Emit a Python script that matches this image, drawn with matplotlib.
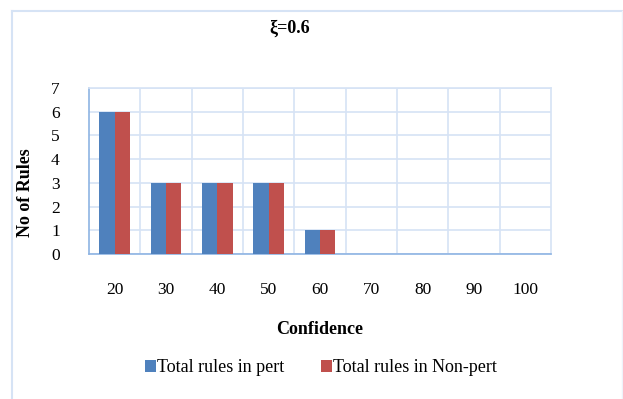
import matplotlib
matplotlib.use("Agg")
import matplotlib.pyplot as plt
from matplotlib.lines import Line2D
import numpy as np

confidence = [20, 30, 40, 50, 60, 70, 80, 90, 100]
rules_pert = [6, 3, 3, 3, 1, 0, 0, 0, 0]
rules_nonpert = [6, 3, 3, 3, 1, 0, 0, 0, 0]

plt.rcParams['font.family'] = ['Liberation Serif', 'DejaVu Serif']

fig = plt.figure(figsize=(6.23, 3.99), dpi=100)
ax = fig.add_axes([89 / 623, 1 - 254 / 399, 462 / 623, 166 / 399])

x = np.arange(len(confidence))
w = 0.3
ax.bar(x - w / 2, rules_pert, w, color='#4F81BD', label='Total rules in pert', zorder=3)
ax.bar(x + w / 2, rules_nonpert, w, color='#C0504D', label='Total rules in Non-pert', zorder=3)

ax.set_xlim(-0.5, len(confidence) - 0.5)
ax.set_ylim(0, 7)
ax.set_yticks(range(8))
ax.set_xticks(x)
ax.set_xticklabels([str(c) for c in confidence], fontsize=12.5)
ax.set_xticks(np.arange(0.5, len(confidence) - 0.5), minor=True)
ax.tick_params(axis='y', labelsize=12.5, length=0, pad=21)
ax.tick_params(axis='x', which='both', length=0, pad=20)

# grid
ax.grid(axis='y', color='#D6E3F5', linewidth=1.2, zorder=0)
ax.grid(axis='x', which='minor', color='#D6E3F5', linewidth=1.2, zorder=0)
for s in ['top', 'right']:
    ax.spines[s].set_color('#D6E3F5')
    ax.spines[s].set_linewidth(1.2)
for s in ['left', 'bottom']:
    ax.spines[s].set_color('#8EB4E3')
    ax.spines[s].set_linewidth(1.2)

fig.text(26 / 623, 1 - 193 / 399, 'No of Rules', fontsize=13, fontweight='bold',
         rotation=90, ha='center', va='center')
ax.set_xlabel('Confidence', fontsize=13, fontweight='bold', labelpad=17)
fig.text(290 / 623, 1 - 28 / 399, 'ξ=0.6', fontsize=13, fontweight='bold',
         ha='center', va='center')

fig.legend(loc='center', bbox_to_anchor=(321 / 623, 1 - 368 / 399), ncol=2,
           frameon=False, fontsize=13, handlelength=0.6, handleheight=0.6,
           handletextpad=0.1, columnspacing=2.0)

# outer chart border
bc = '#D6E3F5'
fig.add_artist(Line2D([12 / 623, 12 / 623], [0, 1 - 11 / 399], color=bc, lw=1.5, transform=fig.transFigure))
fig.add_artist(Line2D([12 / 623, 622 / 623], [1 - 11 / 399, 1 - 11 / 399], color=bc, lw=1.5, transform=fig.transFigure))
fig.add_artist(Line2D([622 / 623, 622 / 623], [0, 1 - 11 / 399], color='#EEF3FA', lw=1.0, transform=fig.transFigure))

fig.savefig('out.png', dpi=100)
